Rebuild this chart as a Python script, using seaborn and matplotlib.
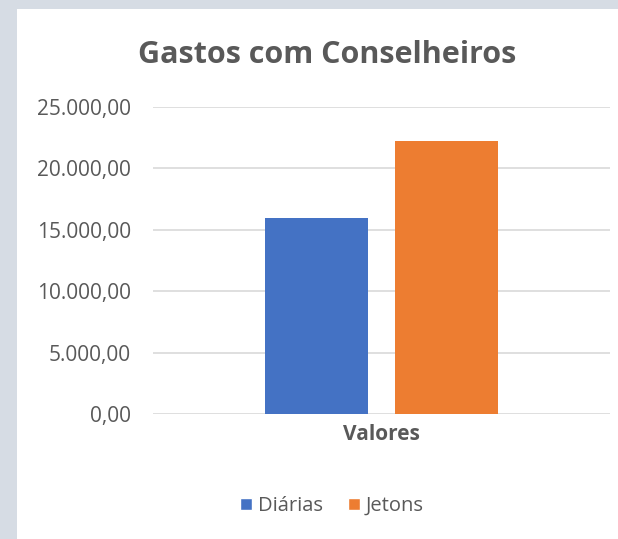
import matplotlib
matplotlib.use("Agg")
import matplotlib.pyplot as plt
from matplotlib.patches import Rectangle, Patch
from matplotlib.ticker import FuncFormatter
import seaborn as sns
import pandas as pd

# data
categorias = ["Valores"]
series = ["Diárias", "Jetons"]
valores = [15960, 22230]
cores = ["#4472C4", "#ED7D31"]

df = pd.DataFrame({"cat": categorias * len(series), "serie": series, "valor": valores})

sns.set_theme(style="white")
plt.rcParams["font.family"] = ["Open Sans", "DejaVu Sans"]
texto = "#595959"

fig = plt.figure(figsize=(6.18, 5.39), dpi=100)
fig.patch.set_facecolor("#D6DCE4")
# white chart area
fig.patches.append(Rectangle((17 / 618, 0), 1, 1 - 9 / 539, transform=fig.transFigure,
                             facecolor="white", edgecolor="none", zorder=-5))

ax = fig.add_axes([153 / 618, 1 - 414 / 539, (610 - 153) / 618, (414 - 107) / 539])
ax.set_facecolor("none")

sns.barplot(data=df, x="cat", y="valor", hue="serie", palette=cores, saturation=1,
            width=0.57, gap=0.21, linewidth=0, ax=ax, legend=False)

ax.set_ylim(0, 25000)
ax.set_yticks(range(0, 25001, 5000))
ax.yaxis.set_major_formatter(FuncFormatter(
    lambda v, p: f"{v:,.2f}".replace(",", "X").replace(".", ",").replace("X", ".")))
ax.grid(axis="y", color="#D9D9D9", lw=1.2)
ax.set_axisbelow(True)
for s in ax.spines.values():
    s.set_visible(False)
ax.tick_params(axis="y", length=0, pad=16, labelsize=15, labelcolor=texto)
ax.tick_params(axis="x", length=0, pad=7, labelsize=15, labelcolor=texto)
for t in ax.get_xticklabels():
    t.set_fontweight("bold")
ax.set_xlabel("")
ax.set_ylabel("")

fig.text(327 / 618, 1 - 55 / 539, "Gastos com Conselheiros", ha="center", va="center",
         fontsize=22, fontweight="bold", color=texto)

handles = [Patch(facecolor=c, label=s) for s, c in zip(series, cores)]
fig.legend(handles=handles, loc="center", bbox_to_anchor=(332 / 618, 1 - 506 / 539),
           ncol=2, frameon=False, fontsize=14.5, handlelength=0.6, handleheight=0.6,
           handletextpad=0.3, columnspacing=1.2, labelcolor=texto)

fig.savefig("out.png", dpi=100, facecolor=fig.get_facecolor())
